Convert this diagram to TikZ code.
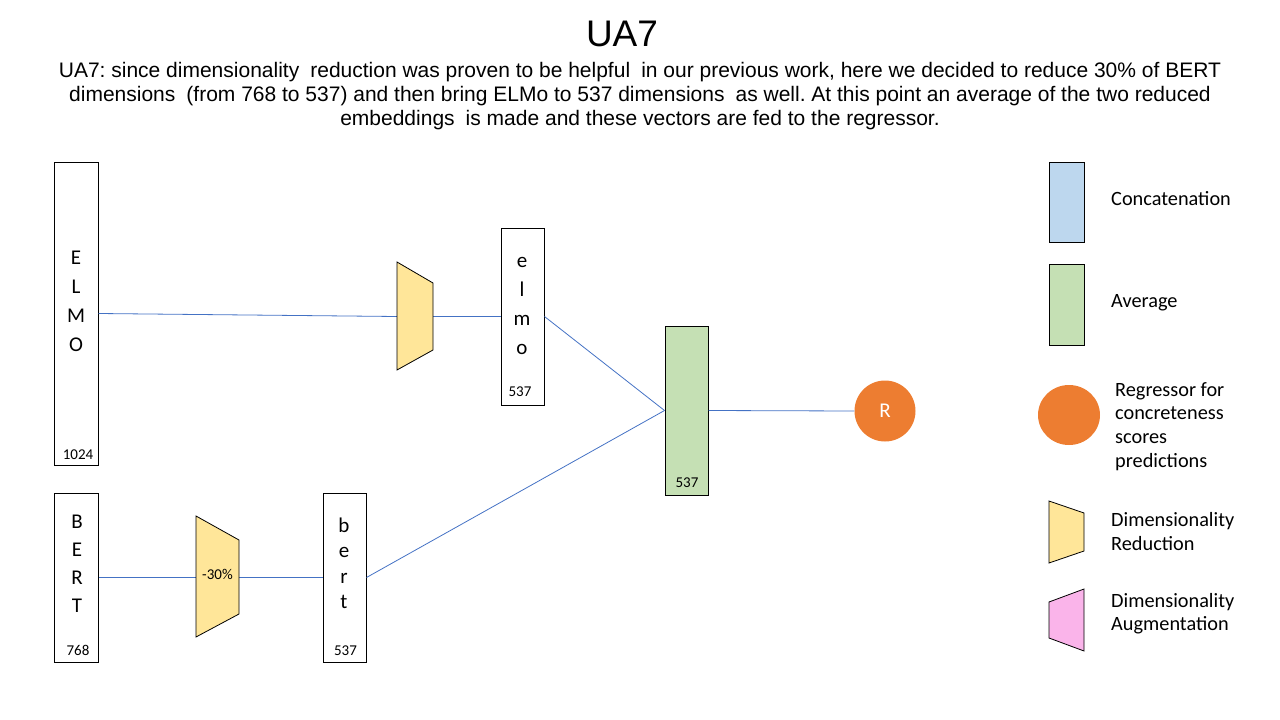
\documentclass[tikz,border=0pt]{standalone}
\usepackage{fontspec}
\usetikzlibrary{shapes.geometric}
\setmainfont{Carlito}
\newfontfamily\arialf{Liberation Sans}
\frenchspacing
\newcommand\dsp{\hspace{0.25em}}
\definecolor{conn}{HTML}{4472C4}
\definecolor{yel}{HTML}{FFE699}
\definecolor{grn}{HTML}{C5E0B4}
\definecolor{blu}{HTML}{BDD7EE}
\definecolor{org}{HTML}{ED7D31}
\definecolor{pnk}{HTML}{FAB4EA}
\tikzset{
  vec/.style={draw=black, line width=1pt, inner sep=0pt, minimum width=43pt},
  letter/.style={anchor=base, inner sep=0pt, font=\fontsize{21}{23}\selectfont},
  dimnum/.style={anchor=base, inner sep=0pt, font=\fontsize{15}{18}\selectfont},
  link/.style={draw=conn, line width=0.8pt},
  trap/.style={draw=black, line width=0.8pt},
  legtext/.style={anchor=base west, inner sep=0pt, font=\fontsize{20.3}{24}\selectfont},
  subline/.style={anchor=base, inner sep=0pt, font=\arialf\fontsize{21}{24}\selectfont},
}
\begin{document}
\begin{tikzpicture}[x=1pt,y=-1pt]
\useasboundingbox (0,0) rectangle (1280,720);
% title
\node[anchor=base, inner sep=0pt, font=\arialf\fontsize{37}{40}\selectfont] (title) at (622,46) {UA7};
\node[subline] (sub1) at (640,77) {UA7: since dimensionality \dsp reduction was proven to be helpful \dsp in our previous work, here we decided to reduce 30\% of BERT};
\node[subline] (sub2) at (640,101) {dimensions \dsp (from 768 to 537) and then bring ELMo to 537 dimensions \dsp as well. At this point an average of the two reduced};
\node[subline] (sub3) at (640,125) {embeddings \dsp is made and these vectors are fed to the regressor.};

% vector boxes
\node[vec, minimum width=44pt, minimum height=303pt] (ELMO) at (76,313.5) {};
\node[vec, minimum height=177pt] (elmo) at (522.5,316.5) {};
\node[vec, fill=grn, minimum height=169pt] (avg) at (686.5,410.5) {};
\node[vec, minimum width=44pt, minimum height=169pt] (BERT) at (76,577.5) {};
\node[vec, minimum height=169pt] (bert) at (344.5,577.5) {};
\node[circle, fill=org, minimum size=61pt, inner sep=0pt, text=white, font=\fontsize{21}{24}\selectfont] (R) at (885,411) {R};

% trapezoid anchor points
\coordinate (t1l) at (397,316.5);
\coordinate (t1r) at (433,316.5);
\coordinate (t2l) at (196,577.5);
\coordinate (t2r) at (239,577.5);

% connectors
\draw[link] (ELMO.east) -- (t1l);
\draw[link] (t1r) -- (elmo.west);
\draw[link] (BERT.east) -- (t2l);
\draw[link] (t2r) -- (bert.west);
\draw[link] (elmo.east) -- (avg.west);
\draw[link] (bert.east) -- (avg.west);
\draw[link] (avg.east) -- (R.west);

% trapezoids
\draw[trap, fill=yel] (397,262) -- (433,283) -- (433,350) -- (397,370) -- cycle;
\draw[trap, fill=yel] (196,516) -- (239,540) -- (239,614) -- (196,637) -- cycle;
\node[dimnum] (pct) at (217.5,579) {-30\%};

% letters
\foreach \c [count=\i] in {E,L,M,O} \node[letter] (ELMOl\i) at (76,264+29*\i-29) {\c};
\foreach \c [count=\i] in {e,l,m,o} \node[letter] (elmol\i) at (522,267+29*\i-29) {\c};
\foreach \c [count=\i] in {B,E,R,T} \node[letter] (BERTl\i) at (77,528+28.3*\i-28.3) {\c};
\foreach \c [count=\i] in {b,e,r,t} \node[letter] (bertl\i) at (344,532+25.5*\i-25.5) {\c};

% dimension numbers
\node[dimnum] (n1024) at (78,459) {1024};
\node[dimnum] (n537a) at (520,396) {537};
\node[dimnum] (n768) at (78,655) {768};
\node[dimnum] (n537b) at (345.5,655) {537};
\node[dimnum] (n537c) at (687,487) {537};

% legend
\node[draw=black, line width=1pt, fill=blu, minimum width=35pt, minimum height=80pt, inner sep=0pt] (lgC) at (1066.5,202) {};
\node[draw=black, line width=1pt, fill=grn, minimum width=35pt, minimum height=81pt, inner sep=0pt] (lgA) at (1066.5,304.5) {};
\node[ellipse, fill=org, minimum width=62pt, minimum height=60pt, inner sep=0pt] (lgR) at (1069,415) {};
\draw[trap, fill=yel] (1049,501) -- (1084,513) -- (1084,551) -- (1049,563) -- cycle;
\draw[trap, fill=pnk] (1049,602) -- (1084,589) -- (1084,651) -- (1049,638) -- cycle;
\node[legtext] (lgCt) at (1111,205) {Concatenation};
\node[legtext] (lgAt) at (1111,307) {Average};
\node[legtext] (lgRt1) at (1115,396) {Regressor for};
\node[legtext] (lgRt2) at (1115,419) {concreteness};
\node[legtext] (lgRt3) at (1115,443) {scores};
\node[legtext] (lgRt4) at (1115,467) {predictions};
\node[legtext] (lgDt1) at (1111,526) {Dimensionality};
\node[legtext] (lgDt2) at (1111,550) {Reduction};
\node[legtext] (lgUt1) at (1111,607) {Dimensionality};
\node[legtext] (lgUt2) at (1111,630) {Augmentation};
\end{tikzpicture}
\end{document}
